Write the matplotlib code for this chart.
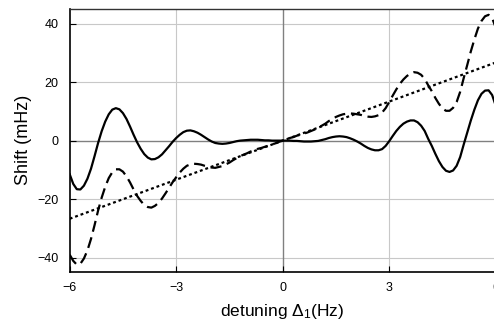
import matplotlib
matplotlib.use('Agg')
import matplotlib.pyplot as plt
import numpy as np

plt.rcParams['font.family'] = ['Liberation Sans', 'DejaVu Sans']
plt.rcParams['mathtext.fontset'] = 'custom'
plt.rcParams['mathtext.rm'] = 'Liberation Sans'
plt.rcParams['mathtext.it'] = 'Liberation Sans'

# detuning grid (Hz), sampled every 0.1 Hz
detuning = np.linspace(-6, 6, 121)

# solid curve: shift (mHz)
shift_solid = [
    -11.5, -14.8, -16.6, -16.7, -15.4, -13.0, -9.6, -5.3, -0.8, 3.2,
    6.5, 9.0, 10.6, 11.1, 10.7, 9.4, 7.4, 4.8, 2.0, -0.6,
    -2.8, -4.6, -5.8, -6.4, -6.3, -5.7, -4.7, -3.3, -1.9, -0.4,
    0.9, 2.0, 2.9, 3.4, 3.5, 3.2, 2.7, 2.0, 1.2, 0.4,
    -0.3, -0.8, -1.0, -1.1, -1.0, -0.8, -0.5, -0.2, 0.0, 0.1,
    0.2, 0.3, 0.3, 0.3, 0.2, 0.1, 0.1, 0.0, 0.0, 0.0,
    0.0,
    0.0, 0.0, -0.1, -0.1, -0.2, -0.3, -0.3, -0.3, -0.2, -0.1,
    0.2, 0.5, 0.9, 1.2, 1.4, 1.5, 1.4, 1.2, 0.8, 0.3,
    -0.3, -1.0, -1.8, -2.5, -3.0, -3.3, -3.3, -2.9, -1.8, -0.2,
    1.6, 3.3, 4.7, 5.8, 6.5, 6.9, 6.9, 6.3, 5.1, 3.3,
    0.6, -1.8, -4.5, -7.0, -9.0, -10.3, -10.7, -10.2, -8.6, -5.6,
    -1.3, 2.8, 6.9, 10.6, 13.8, 16.0, 17.1, 17.2, 15.6, 12.0,
]

# dashed curve: shift (mHz)
shift_dashed = [
    -39.0, -41.1, -42.4, -42.1, -40.3, -37.5, -33.6, -28.9, -23.9, -19.5,
    -15.8, -12.8, -10.8, -9.8, -9.8, -10.6, -12.2, -14.3, -16.7, -18.9,
    -20.6, -22.0, -22.7, -22.9, -22.3, -21.3, -19.8, -18.0, -16.1, -14.2,
    -12.5, -10.9, -9.6, -8.6, -8.1, -7.9, -8.0, -8.2, -8.6, -8.9,
    -9.2, -9.3, -9.0, -8.7, -8.1, -7.5, -6.7, -6.0, -5.3, -4.8,
    -4.3, -3.7, -3.3, -2.8, -2.5, -2.1, -1.7, -1.3, -0.9, -0.4,
    0.0,
    0.4, 0.9, 1.2, 1.7, 2.0, 2.4, 2.8, 3.3, 3.8, 4.4,
    5.1, 5.8, 6.7, 7.4, 8.1, 8.6, 9.0, 9.2, 9.3, 9.2,
    9.0, 8.8, 8.4, 8.2, 8.1, 8.3, 8.7, 9.6, 11.1, 13.2,
    15.4, 17.5, 19.4, 20.9, 22.1, 22.9, 23.4, 23.2, 22.5, 21.1,
    18.9, 16.9, 14.6, 12.6, 11.0, 10.2, 10.2, 11.2, 13.2, 16.7,
    21.4, 25.9, 30.5, 34.6, 38.3, 40.9, 42.5, 43.0, 41.9, 38.7,
]

# dotted straight line
line_x = [-6, 6]
line_y = [-26.7, 26.7]

xticks = [-6, -3, 0, 3, 6]
yticks = [-40, -20, 0, 20, 40]

fig = plt.figure(figsize=(4.94, 3.24), dpi=100)
ax = fig.add_axes([0.1411, 0.1596, 0.8623, 0.8127])

# grid lines
for v in [-3, 3]:
    ax.axvline(v, color='#c8c8c8', lw=0.8, zorder=0)
for v in [-40, -20, 20, 40]:
    ax.axhline(v, color='#c8c8c8', lw=0.8, zorder=0)
ax.axvline(0, color='#808080', lw=1.0, zorder=0.5)
ax.axhline(0, color='#808080', lw=1.0, zorder=0.5)

ax.plot(detuning, shift_solid, color='black', lw=1.6, solid_joinstyle='round')
ax.plot(detuning, shift_dashed, color='black', lw=1.6, dashes=(5, 2.6))
ax.plot(line_x, line_y, color='black', lw=1.6, dashes=(1.3, 1.3))

ax.set_xlim(-6, 6)
ax.set_ylim(-45, 45)
ax.set_xticks(xticks)
ax.set_yticks(yticks)
ax.tick_params(direction='in', length=4, width=0.8, labelsize=9, colors='black')
ax.tick_params(axis='y', pad=8)
ax.tick_params(axis='x', pad=7)

for side in ['left', 'bottom']:
    ax.spines[side].set_linewidth(1.2)
    ax.spines[side].set_color('black')
ax.spines['top'].set_linewidth(1.0)
ax.spines['top'].set_color('#333333')
ax.spines['right'].set_visible(False)

ax.set_xlabel('detuning Δ$_{1}$(Hz)', fontsize=12.5)
ax.set_ylabel('Shift (mHz)', fontsize=13)
ax.xaxis.set_label_coords(0.498, -0.112)
ax.yaxis.set_label_coords(-0.0885, 0.502)

fig.savefig('out.png', dpi=100)
